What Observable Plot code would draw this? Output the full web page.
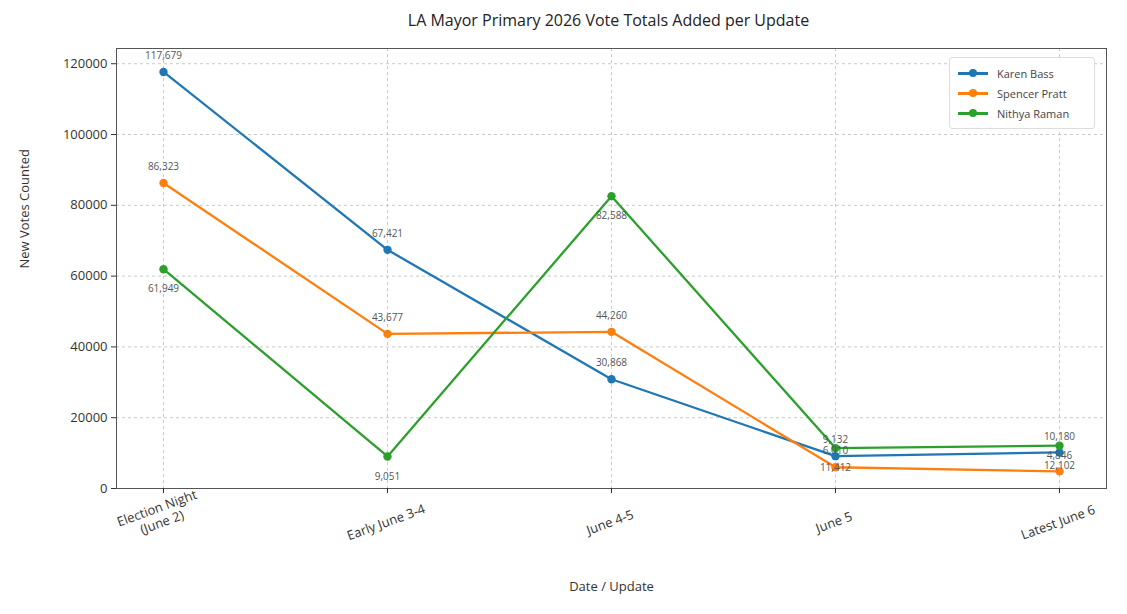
<!DOCTYPE html>
<html>
<head>
<meta charset="utf-8">
<script src="https://cdn.jsdelivr.net/npm/d3@7"></script>
<script src="https://cdn.jsdelivr.net/npm/@observablehq/plot@0.6"></script>
<style>
  body { margin: 0; background: #fff; font-family: "Open Sans", sans-serif; }
  #wrap { position: relative; width: 1127px; height: 614px; }
  #title { height: 36px; line-height: 40px; text-align: center; font-size: 16px; color: #222; padding-left: 90px; box-sizing: border-box; }
  #legend { position: absolute; left: 949px; top: 57px; width: 146px; padding: 5px 8px; border: 1px solid #ddd; border-radius: 3px; background: #fff; font-size: 11px; color: #444; box-sizing: border-box; }
  .item { display: flex; align-items: center; height: 20px; }
  .sw { position: relative; width: 30px; height: 10px; margin-right: 9px; }
  .sw .ln { position: absolute; left: 0; right: 0; top: 4px; height: 2.5px; }
  .sw .dt { position: absolute; left: 11px; top: 1px; width: 8px; height: 8px; border-radius: 50%; }
</style>
</head>
<body>
<div id="wrap">
  <div id="title">LA Mayor Primary 2026 Vote Totals Added per Update</div>
  <div id="chart"></div>
  <div id="legend"></div>
</div>
<script>
const updates = ["Election Night\n(June 2)", "Early June 3-4", "June 4-5", "June 5", "Latest June 6"];
const candidates = ["Karen Bass", "Spencer Pratt", "Nithya Raman"];
const colors = ["#1f77b4", "#ff7f0e", "#2ca02c"];
const bassVotes = [117679, 67421, 30868, 9132, 10180];
const prattVotes = [86323, 43677, 44260, 6010, 4846];
const ramanVotes = [61949, 9051, 82588, 11412, 12102];
const yTicks = [0, 20000, 40000, 60000, 80000, 100000, 120000];

const seriesValues = [bassVotes, prattVotes, ramanVotes];
const rows = [];
candidates.forEach((c, i) => {
  seriesValues[i].forEach((v, j) => rows.push({candidate: c, update: updates[j], votes: v, idx: i}));
});
const labelFmt = d3.format(",");

const chart = Plot.plot({
  width: 1127,
  height: 578,
  marginTop: 12,
  marginBottom: 126,
  marginLeft: 116,
  marginRight: 21,
  style: {fontFamily: "Open Sans, sans-serif", fontSize: "13px", color: "#333", background: "#fff"},
  x: {type: "point", domain: updates, padding: 0.2, label: null},
  y: {domain: [0, 124300], label: null},
  color: {domain: candidates, range: colors},
  marks: [
    Plot.gridY(yTicks, {stroke: "#bbb", strokeOpacity: 0.8, strokeDasharray: "3,3"}),
    Plot.gridX(updates, {stroke: "#bbb", strokeOpacity: 0.8, strokeDasharray: "3,3"}),
    Plot.frame({stroke: "#555"}),
    Plot.axisY(yTicks, {tickFormat: d => String(d), tickSize: 5, tickPadding: 4, fontSize: 13, label: null}),
    Plot.axisX(updates, {tickSize: 5, tickFormat: () => "", label: null}),
    Plot.text(updates, {x: d => d, frameAnchor: "bottom", dy: 38, rotate: -20, fontSize: 13, fill: "#333", lineHeight: 1.15}),
    Plot.line(rows, {x: "update", y: "votes", stroke: "candidate", strokeWidth: 2.3, z: "candidate"}),
    Plot.dot(rows, {x: "update", y: "votes", fill: "candidate", r: 4.2}),
    Plot.text(rows.filter(d => d.idx < 2), {x: "update", y: "votes", text: d => labelFmt(d.votes), dy: -16, fontSize: 10, fill: "#555"}),
    Plot.text(rows.filter(d => d.idx === 2), {x: "update", y: "votes", text: d => labelFmt(d.votes), dy: 20, fontSize: 10, fill: "#555"}),
    Plot.text(["New Votes Counted"], {frameAnchor: "left", dx: -92, rotate: -90, fontSize: 13, fill: "#333"}),
    Plot.text(["Date / Update"], {frameAnchor: "bottom", dy: 102, fontSize: 13, fill: "#333"})
  ]
});
document.getElementById("chart").appendChild(chart);

const legend = document.getElementById("legend");
candidates.forEach((c, i) => {
  const item = document.createElement("div");
  item.className = "item";
  item.innerHTML = `<div class="sw"><div class="ln" style="background:${colors[i]}"></div><div class="dt" style="background:${colors[i]}"></div></div><span>${c}</span>`;
  legend.appendChild(item);
});
</script>
</body>
</html>
